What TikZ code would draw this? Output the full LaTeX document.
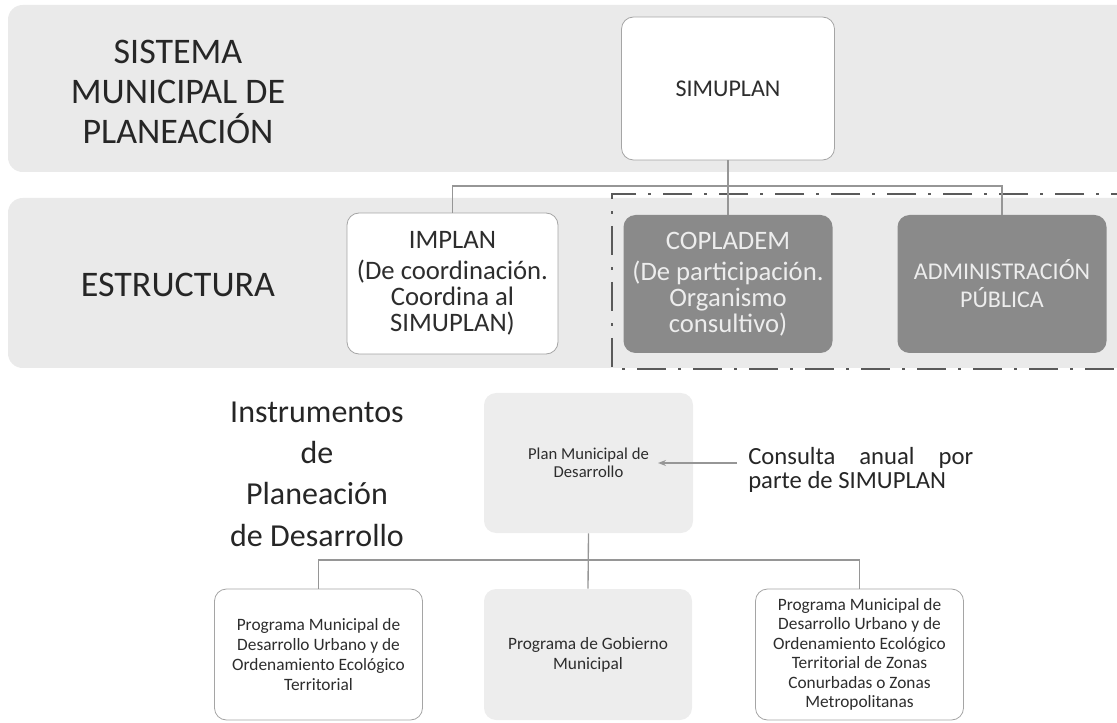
\documentclass[tikz,border=0pt]{standalone}
\usepackage{fontspec}
\setmainfont{Carlito}
\usetikzlibrary{arrows.meta}
\definecolor{bandfill}{RGB}{234,234,234}
\definecolor{lightfill}{RGB}{237,237,237}
\definecolor{darkfill}{RGB}{138,138,138}
\definecolor{edgegray}{RGB}{165,165,165}
\definecolor{conngray}{RGB}{150,150,150}
\definecolor{txtgray}{RGB}{45,45,45}
\definecolor{dashgray}{RGB}{90,90,90}
\tikzset{
  band/.style={fill=bandfill, rounded corners=11pt},
  wbox/.style={draw=edgegray, line width=0.6pt, fill=white, rounded corners=9pt, inner sep=0pt, align=center, text=txtgray},
  gbox/.style={fill=lightfill, rounded corners=9pt, inner sep=0pt, align=center, text=txtgray},
  dbox/.style={fill=darkfill, rounded corners=9pt, inner sep=0pt, align=center, text=white!93!black},
  conn/.style={draw=conngray, line width=1pt},
  title/.style={align=center, text=black!85, inner sep=0pt},
  dashdotframe/.style={draw=dashgray, line width=1.3pt, dash pattern=on 22pt off 9pt on 2pt off 9pt}
}
\begin{document}
\begin{tikzpicture}[x=0.75pt,y=-0.75pt]
\useasboundingbox (0,0) rectangle (1117,723);
% bands
\fill[band] (8,5) rectangle (1145,172);
\fill[band] (8,198) rectangle (1145,368);
% dash-dot frame
\draw[dashdotframe] (1140,194) -- (612,194) -- (612,369) -- (1140,369);

% titles
\node[title, font=\fontsize{27}{30}\selectfont] (t1) at (178,92) {SISTEMA\\MUNICIPAL DE\\PLANEACIÓN};
\node[title, font=\fontsize{27}{30}\selectfont] (t2) at (178,285) {ESTRUCTURA};
\node[title, font=\fontsize{24}{31}\selectfont] (t3) at (317,474) {Instrumentos\\de\\Planeación\\de Desarrollo};

% top level
\node[wbox, minimum width=159.75pt, minimum height=107.25pt, font=\fontsize{18}{21}\selectfont] (simuplan) at (728,88.5) {SIMUPLAN};

% structure
\node[wbox, minimum width=158.25pt, minimum height=105.75pt, font=\fontsize{20}{19.5}\selectfont] (implan) at (452.5,283.5)
  {IMPLAN\\[4pt](De coordinación.\\Coordina al\\SIMUPLAN)};
\node[dbox, minimum width=156.75pt, minimum height=103.5pt, font=\fontsize{20}{19.5}\selectfont] (copladem) at (728,284)
  {COPLADEM\\[4pt](De participación.\\Organismo\\consultivo)};
\node[dbox, minimum width=156.75pt, minimum height=103.5pt, font=\fontsize{18}{21}\selectfont] (admin) at (1002,284)
  {ADMINISTRACIÓN\\PÚBLICA};

\coordinate (hub) at (728,186);
\draw[conn] (simuplan.south) -- (copladem.north);
\draw[conn] (implan.north) |- (hub) -| (admin.north);

% instruments
\node[gbox, minimum width=156.75pt, minimum height=105pt, font=\fontsize{12.5}{13.5}\selectfont] (plan) at (588.5,463)
  {Plan Municipal de\\Desarrollo};
\node[anchor=west, align=left, inner sep=0pt, text=black!85, font=\fontsize{18.5}{18}\selectfont] (consulta) at (748,470)
  {\makebox[168.75pt][s]{Consulta anual por}\\parte de SIMUPLAN};
\coordinate (atail) at (737,463);
\coordinate (ahead) at (658,463);
\draw[conn, -{Stealth[length=6pt,width=4.5pt]}] (atail) -- (ahead);

\node[wbox, minimum width=156pt, minimum height=98.25pt, font=\fontsize{13}{15}\selectfont] (prog1) at (318.5,654.5)
  {Programa Municipal de\\Desarrollo Urbano y de\\Ordenamiento Ecológico\\Territorial};
\node[gbox, minimum width=156pt, minimum height=98.25pt, font=\fontsize{13}{15}\selectfont] (gob) at (588,654.5)
  {Programa de Gobierno\\Municipal};
\node[wbox, minimum width=156pt, minimum height=98.25pt, font=\fontsize{13}{14.6}\selectfont] (prog3) at (859.5,654.5)
  {Programa Municipal de\\Desarrollo Urbano y de\\Ordenamiento Ecológico\\Territorial de Zonas\\Conurbadas o Zonas\\Metropolitanas};

\coordinate (hub2) at (588,560);
\draw[conn] (plan.south) -- (gob.north);
\draw[conn] (prog1.north) |- (hub2) -| (prog3.north);
\end{tikzpicture}
\end{document}
